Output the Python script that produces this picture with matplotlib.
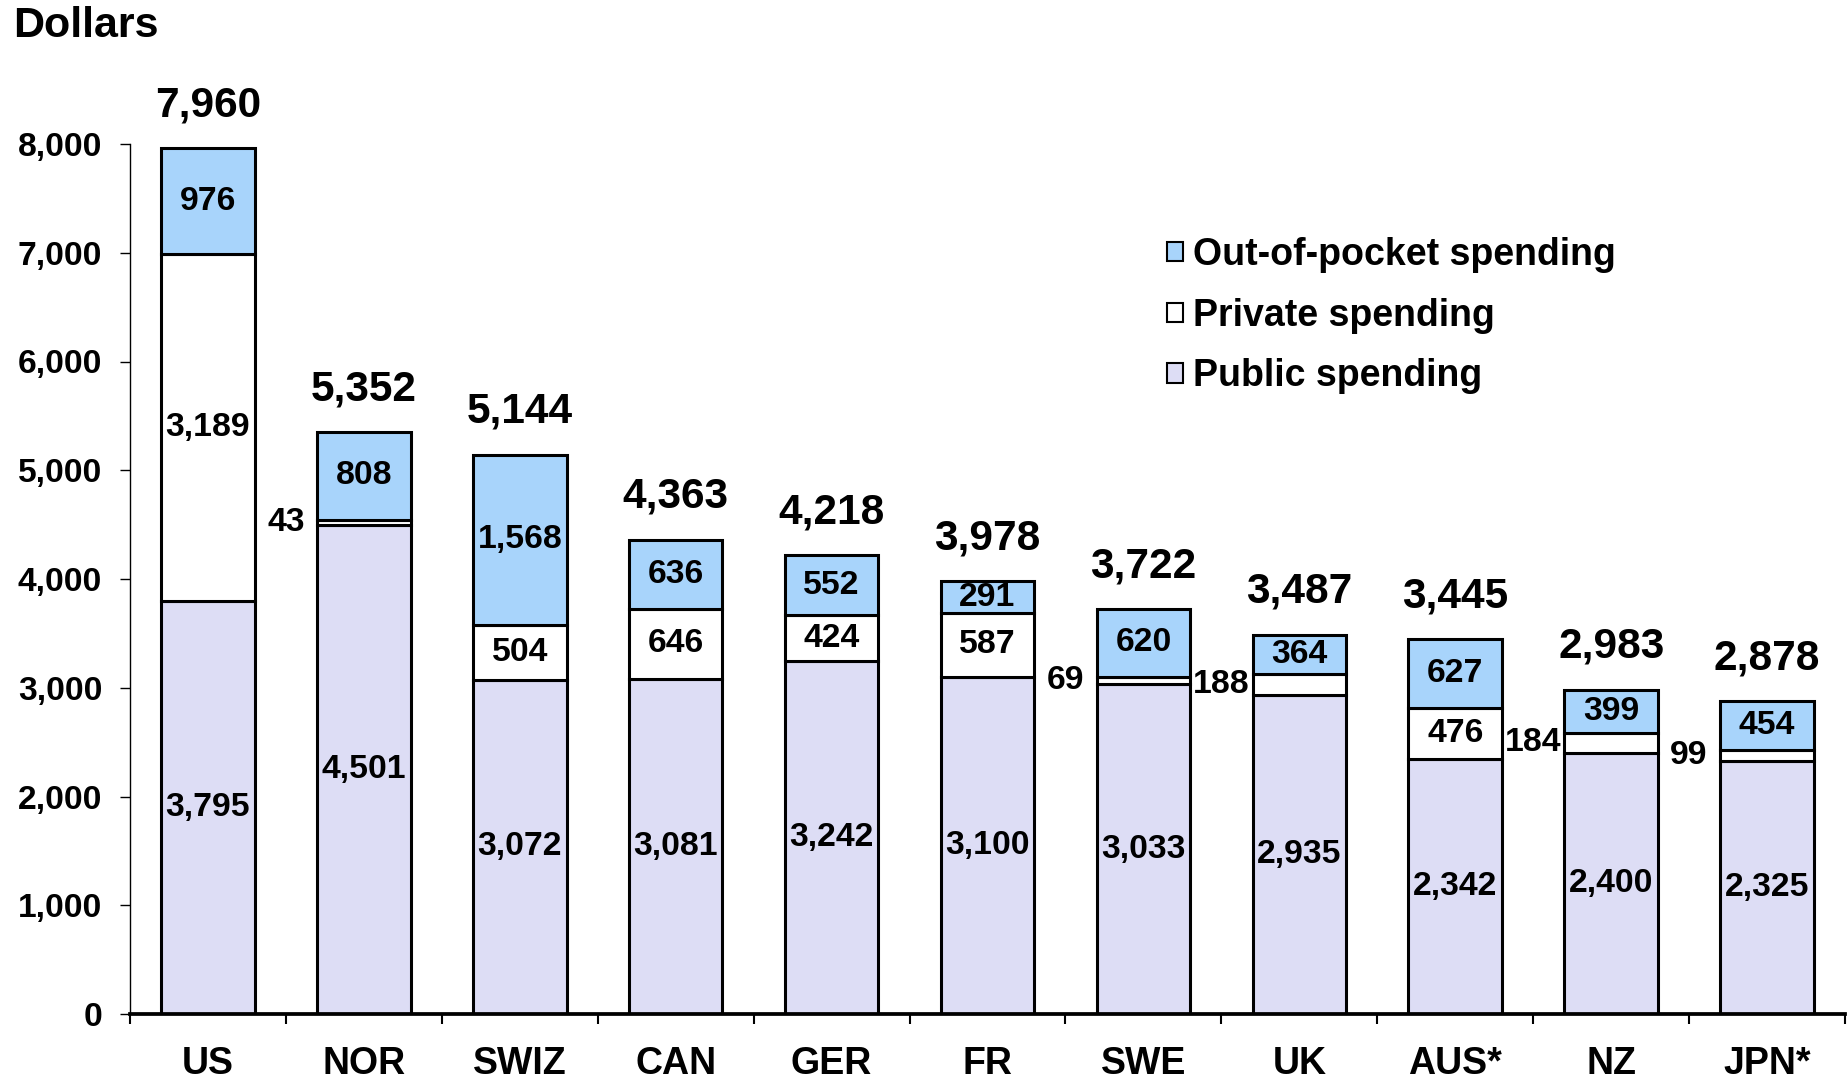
import matplotlib
matplotlib.use("Agg")
import matplotlib.pyplot as plt
from matplotlib.patches import Patch
import numpy as np

countries = ["US", "NOR", "SWIZ", "CAN", "GER", "FR", "SWE", "UK", "AUS*", "NZ", "JPN*"]
public = [3795, 4501, 3072, 3081, 3242, 3100, 3033, 2935, 2342, 2400, 2325]
private = [3189, 43, 504, 646, 424, 587, 69, 188, 476, 184, 99]
out_of_pocket = [976, 808, 1568, 636, 552, 291, 620, 364, 627, 399, 454]
totals = [7960, 5352, 5144, 4363, 4218, 3978, 3722, 3487, 3445, 2983, 2878]
y_ticks = [0, 1000, 2000, 3000, 4000, 5000, 6000, 7000, 8000]

C_OOP = "#A8D4FB"
C_PRIV = "#FFFFFF"
C_PUB = "#DDDDF5"

plt.rcParams["font.family"] = ["Liberation Sans", "DejaVu Sans"]
plt.rcParams["font.weight"] = "bold"

W, H = 1849, 1079
fig = plt.figure(figsize=(W / 100, H / 100), dpi=100)
ax = fig.add_axes([130 / W, (H - 1014) / H, (1845 - 130) / W, (1014 - 144) / H])

x = np.arange(len(countries))
bw = 0.6
lw = 2.2
pub = np.array(public)
priv = np.array(private)
oop = np.array(out_of_pocket)

ax.bar(x, pub, bw, color=C_PUB, edgecolor="black", linewidth=lw, zorder=3)
ax.bar(x, priv, bw, bottom=pub, color=C_PRIV, edgecolor="black", linewidth=lw, zorder=3)
ax.bar(x, oop, bw, bottom=pub + priv, color=C_OOP, edgecolor="black", linewidth=lw, zorder=3)

ax.set_xlim(-0.5, len(countries) - 0.5)
ax.set_ylim(0, 8000)

seg_fs = 24.3
for i in range(len(countries)):
    ax.text(i, pub[i] / 2, f"{pub[i]:,}", ha="center", va="center", fontsize=seg_fs,
            fontweight="bold", zorder=5)
    pm = pub[i] + priv[i] / 2
    if priv[i] < 250:
        ax.text(i - 0.5, pm, f"{priv[i]:,}", ha="center", va="center", fontsize=seg_fs,
                fontweight="bold", zorder=5)
    else:
        ax.text(i, pm, f"{priv[i]:,}", ha="center", va="center", fontsize=seg_fs,
                fontweight="bold", zorder=5)
    ax.text(i, pub[i] + priv[i] + oop[i] / 2, f"{oop[i]:,}", ha="center", va="center",
            fontsize=seg_fs, fontweight="bold", zorder=5)
    ax.annotate(f"{totals[i]:,}", (i, totals[i]), xytext=(0, 23), textcoords="offset points",
                ha="center", va="baseline", fontsize=30.5, fontweight="bold",
                annotation_clip=False)

for s in ["top", "right"]:
    ax.spines[s].set_visible(False)
ax.spines["left"].set_linewidth(1.0)
ax.spines["bottom"].set_linewidth(2.7)
ax.spines["bottom"].set_zorder(4)

ax.set_yticks(y_ticks)
ax.set_yticklabels([f"{v:,}" for v in y_ticks], fontsize=24.2, fontweight="bold")
ax.tick_params(axis="y", length=7, width=1.0, pad=13)

ax.set_xticks(x)
ax.set_xticklabels(countries, fontsize=27, fontweight="bold",
                   family=["Liberation Sans Narrow", "Liberation Sans"])
ax.tick_params(axis="x", which="major", length=0, pad=23)
ax.set_xticks(np.arange(len(countries) + 1) - 0.5, minor=True)
ax.tick_params(axis="x", which="minor", length=7, width=1.5)

fig.text(13 / W, 1 - 37 / H, "Dollars", fontsize=31, fontweight="bold", va="baseline", ha="left")

handles = [Patch(facecolor=C_OOP, edgecolor="black", linewidth=1.5),
           Patch(facecolor=C_PRIV, edgecolor="black", linewidth=1.5),
           Patch(facecolor=C_PUB, edgecolor="black", linewidth=1.5)]
labels = ["Out-of-pocket spending", "Private spending", "Public spending"]
leg = ax.legend(handles, labels, loc="upper left", bbox_to_anchor=(1167 / W, 1 - 237 / H),
                bbox_transform=fig.transFigure, frameon=False, borderpad=0, borderaxespad=0,
                handlelength=0.43, handleheight=0.43, handletextpad=0.27, labelspacing=0.66,
                prop={"size": 27, "weight": "bold"})

fig.savefig("out.png", dpi=100)
